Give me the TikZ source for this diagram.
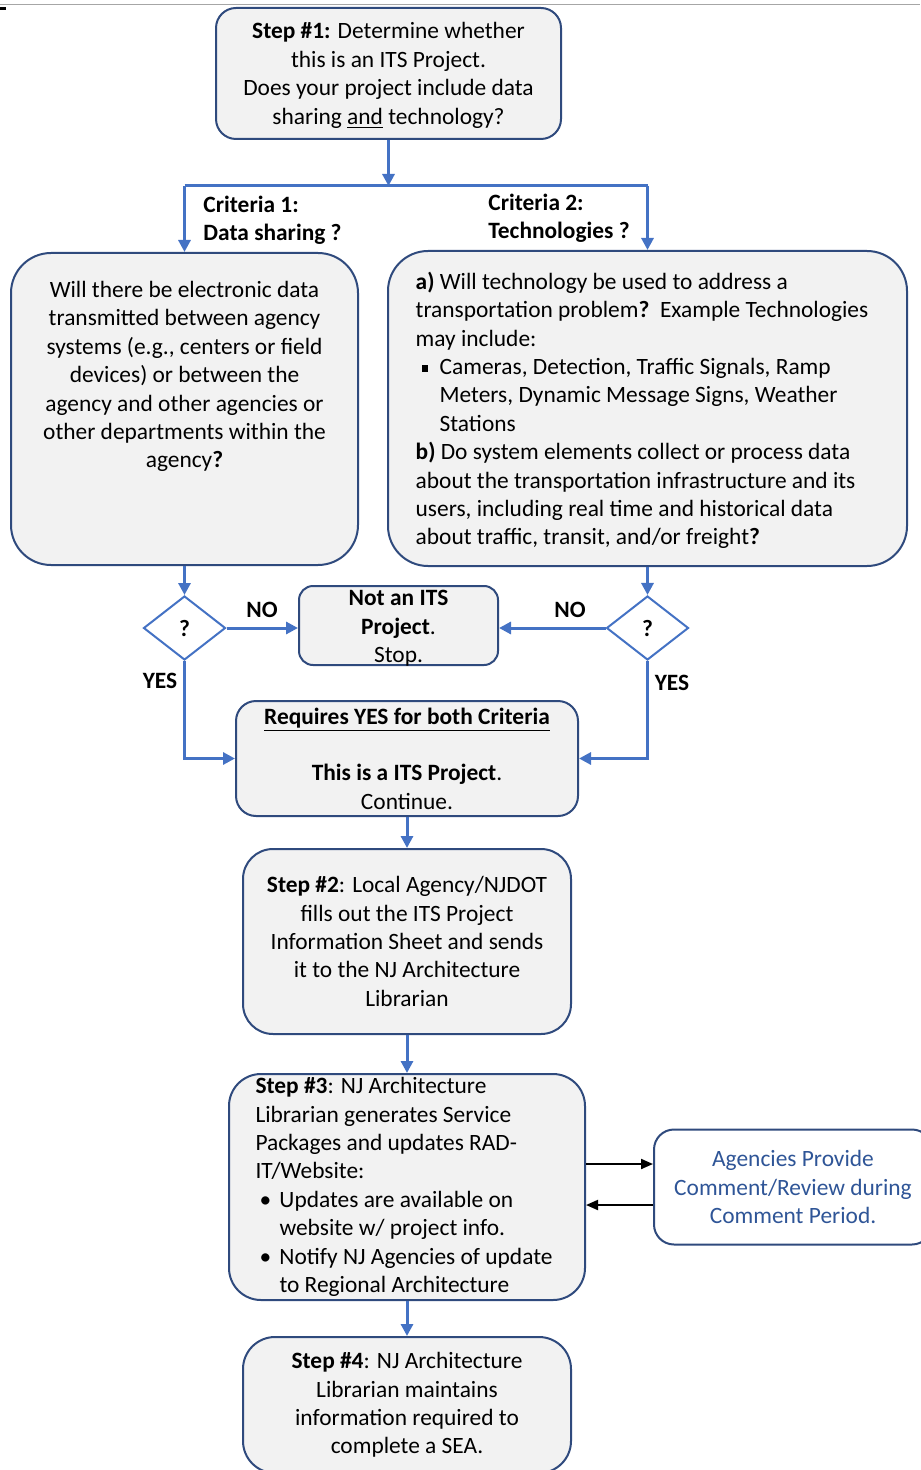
\documentclass[tikz,border=0pt]{standalone}
\usepackage{fontspec}
\setmainfont{Carlito}
\usepackage{xcolor}
\usepackage{tikz}
\usetikzlibrary{shapes.geometric, arrows.meta, positioning}
\definecolor{navy}{HTML}{2F4A7D}
\definecolor{flowblue}{HTML}{4472C4}
\definecolor{boxfill}{HTML}{F2F2F2}
\definecolor{agtext}{HTML}{2F5597}
\newcommand{\chartfont}{\fontsize{11.7}{14.2}\selectfont}
\newcommand{\sqb}{\raisebox{1.4pt}{\rule{3.4pt}{3.4pt}}}
\tikzstyle{arr}  = [-{Triangle[length=6pt,width=6pt]}, line width=1.5pt, draw=flowblue]
\tikzstyle{blk}  = [-{Triangle[length=6pt,width=5pt]}, line width=1pt, draw=black]

\begin{document}
\begin{tikzpicture}[
  x=0.5pt, y=-0.5pt,
  box/.style={rectangle, rounded corners=10pt, draw=navy, line width=1pt,
              fill=boxfill, align=center, inner sep=0pt, font=\chartfont},
  boxtext/.style={font=\chartfont, align=center, inner sep=0pt},
  query/.style={diamond, draw=flowblue, line width=1pt, fill=white,
                minimum width=41pt, minimum height=32pt, inner sep=0pt,
                font=\chartfont\bfseries},
  lbl/.style={font=\chartfont\bfseries, align=left, inner sep=0pt},
  flow/.style={line width=1.5pt, draw=flowblue}
]
  \useasboundingbox (0,0) rectangle (920,1470);
  \draw[gray!70, line width=0.5pt] (0,5) -- (920,5);
  \draw[black, line width=1.5pt] (0,8.5) -- (6,8.5);

  % step 1 and the two criteria
  \node[box, minimum width=172.5pt, minimum height=65.5pt] (step1) at (388.5,73.5) {};
  \node[boxtext] (step1txt) at (388.5,75.5)
    {\textbf{Step \#1:} Determine whether\\this is an ITS Project.\\Does your project include data\\sharing \underline{and} technology?};
  \coordinate[below=23pt of step1.south] (split);

  \node[box, rounded corners=20pt, minimum width=173.5pt, minimum height=156pt] (crit1) at (184.5,409) {};
  \node[boxtext] (crit1txt) at (184.5,376.5)
    {Will there be electronic data\\transmitted between agency\\systems (e.g., centers or field\\devices) or between the\\agency and other agencies or\\other departments within the\\agency\textbf{?}};
  \node[box, rounded corners=20pt, align=left, minimum width=259.5pt,
        minimum height=157.5pt] (crit2) at (647.5,408.5) {};
  \node[boxtext, align=left] (crit2txt) at (642,410.5)
    {\textbf{a)} Will technology be used to address a\\
     transportation problem\textbf{?}\ \ Example Technologies\\
     may include:\\
     \makebox[12pt][l]{\hspace{3pt}\sqb}Cameras, Detection, Traffic Signals, Ramp\\
     \hspace*{12pt}Meters, Dynamic Message Signs, Weather\\
     \hspace*{12pt}Stations\\
     \textbf{b)} Do system elements collect or process data\\
     about the transportation infrastructure and its\\
     users, including real time and historical data\\
     about traffic, transit, and/or freight\textbf{?}};

  \node[lbl] (c1lbl) at (272.5,220) {Criteria 1:\\Data sharing ?};
  \node[lbl] (c2lbl) at (559,218) {Criteria 2:\\Technologies ?};

  % decisions
  \node[query, below=14.5pt of crit1] (q1) {?};
  \node[query, below=14pt of crit2] (q2) {?};
  \node[box, rounded corners=7pt, minimum width=99.5pt, minimum height=39.5pt] (notits) at (398.5,625.5) {};
  \node[boxtext] (notitstxt) at (398.5,628.5) {\textbf{Not an ITS}\\\textbf{Project}.\\Stop.};
  \node[box, minimum width=171pt, minimum height=57.5pt] (req) at (407,758.5)
    {\underline{\textbf{Requires YES for both Criteria}}\\[14.2pt]\textbf{This is a ITS Project}.\\Continue.};

  \node[lbl] (no1) at (262,610) {NO};
  \node[lbl] (no2) at (570,610) {NO};
  \node[lbl] (yes1) at (160,681) {YES};
  \node[lbl] (yes2) at (672,683) {YES};

  % steps 2 to 4
  \node[box, rounded corners=15pt, minimum width=164pt, minimum height=92.5pt, below=15.5pt of req] (step2)
    {\textbf{Step \#2}: Local Agency/NJDOT\\fills out the ITS Project\\Information Sheet and sends\\it to the NJ Architecture\\Librarian};
  \node[box, rounded corners=16pt, minimum width=178pt, minimum height=113pt, below=19pt of step2] (step3) {};
  \node[boxtext, align=left] (step3txt) at ([xshift=-1.5pt]step3.center)
    {\textbf{Step \#3}: NJ Architecture\\
     Librarian generates Service\\
     Packages and updates RAD-\\
     IT/Website:\\
     \makebox[12pt][l]{\hspace{2pt}\textbullet}Updates are available on\\
     \hspace*{12pt}website w/ project info.\\
     \makebox[12pt][l]{\hspace{2pt}\textbullet}Notify NJ Agencies of update\\
     \hspace*{12pt}to Regional Architecture};
  \node[box, rounded corners=16pt, minimum width=164pt, minimum height=68pt, below=17.5pt of step3] (step4)
    {\textbf{Step \#4}: NJ Architecture\\Librarian maintains\\information required to\\complete a SEA.};
  \node[box, fill=white, text=agtext, minimum width=139pt, minimum height=57.5pt,
        right=33.5pt of step3] (agen)
    {Agencies Provide\\Comment/Review during\\Comment Period.};

  % connectors
  \draw[arr] (step1.south) -- (split);
  \draw[flow] (crit1.north |- split) -- (crit2.north |- split);
  \draw[arr] (crit1.north |- split) -- (crit1.north);
  \draw[arr] (crit2.north |- split) -- (crit2.north);
  \draw[arr] (crit1) -- (q1);
  \draw[arr] (crit2) -- (q2);
  \draw[arr] (q1.east) -- (q1.east -| notits.west);
  \draw[arr] (q2.west) -- (q2.west -| notits.east);
  \draw[arr] (q1.south) |- (req.west);
  \draw[arr] (q2.south) |- (req.east);
  \draw[arr] (req) -- (step2);
  \draw[arr] (step2) -- (step3);
  \draw[arr] (step3) -- (step4);
  \draw[blk] ([yshift=11.5pt]step3.east) -- ([yshift=11.5pt]step3.east -| agen.west);
  \draw[blk] ([yshift=-9pt]agen.west) -- ([yshift=-9pt]agen.west -| step3.east);
\end{tikzpicture}
\end{document}
